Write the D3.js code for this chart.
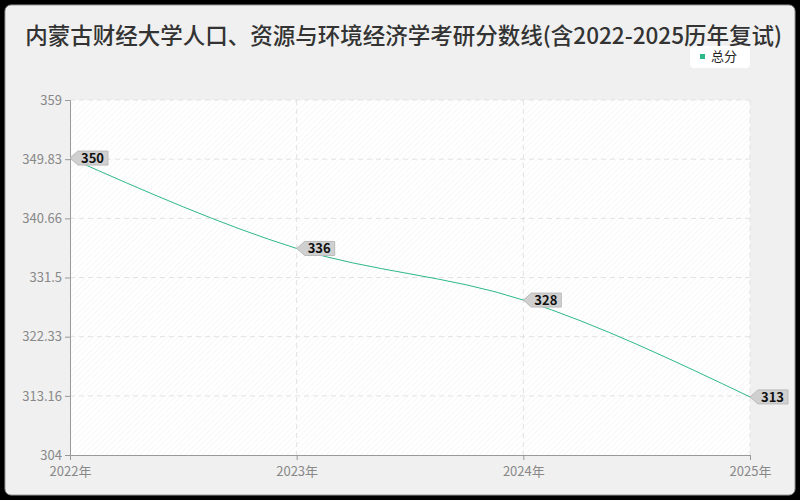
<!DOCTYPE html>
<html><head><meta charset="utf-8">
<script src="https://cdn.jsdelivr.net/npm/d3@7"></script>
<style>body{margin:0;background:#000}svg{display:block;font-family:"Noto Sans CJK SC","Noto Sans",sans-serif}</style>
</head><body><div id="chart"></div>
<script>
const years = ["2022年", "2023年", "2024年", "2025年"];
const scores = [350, 336, 328, 313];
const yTicks = [304, 313.16, 322.33, 331.5, 340.66, 349.83, 359];

const width = 800, height = 500;
const m = {left: 70, right: 750, top: 100, bottom: 455};

const svg = d3.select("#chart").append("svg").attr("width", width).attr("height", height);

const defs = svg.append("defs");
const pat = defs.append("pattern").attr("id", "hatch").attr("width", 4).attr("height", 4)
  .attr("patternUnits", "userSpaceOnUse").attr("patternTransform", "rotate(45)");
pat.append("rect").attr("width", 4).attr("height", 4).attr("fill", "#fff");
pat.append("line").attr("x1", 0).attr("y1", 0).attr("x2", 0).attr("y2", 4).attr("stroke", "#f0f0f0").attr("stroke-width", 1);

svg.append("rect").attr("x", 5).attr("y", 5).attr("width", 790).attr("height", 490).attr("rx", 6)
  .attr("fill", "#f0f0f0").attr("stroke", "#999");

svg.append("text").attr("x", 782).attr("y", 44).attr("text-anchor", "end")
  .attr("font-size", 22.5).attr("font-weight", 500).attr("fill", "#333")
  .text("内蒙古财经大学人口、资源与环境经济学考研分数线(含2022-2025历年复试)");

// legend
const lg = svg.append("g");
lg.append("rect").attr("x", 690).attr("y", 46).attr("width", 60).attr("height", 22).attr("rx", 4).attr("fill", "#fff");
lg.append("rect").attr("x", 700).attr("y", 54).attr("width", 5).attr("height", 5).attr("fill", "#2db88a");
lg.append("text").attr("x", 711).attr("y", 61).attr("font-size", 13).attr("fill", "#222").text("总分");

const x = d3.scalePoint().domain(years).range([m.left, m.right]);
const y = d3.scaleLinear().domain([304, 359]).range([m.bottom, m.top]);

svg.append("rect").attr("x", m.left).attr("y", m.top).attr("width", m.right - m.left)
  .attr("height", m.bottom - m.top).attr("fill", "url(#hatch)");

const grid = svg.append("g").attr("stroke", "#e2e2e2").attr("stroke-dasharray", "5,4");
grid.selectAll(".h").data(yTicks.slice(1)).join("line")
  .attr("x1", m.left).attr("x2", m.right).attr("y1", d => y(d)).attr("y2", d => y(d));
grid.selectAll(".v").data(years.slice(1)).join("line")
  .attr("x1", d => x(d)).attr("x2", d => x(d)).attr("y1", m.top).attr("y2", m.bottom);

const yAxis = svg.append("g").attr("transform", `translate(${m.left},0)`)
  .call(d3.axisLeft(y).tickValues(yTicks).tickFormat(d => d).tickSize(5));
const xAxis = svg.append("g").attr("transform", `translate(0,${m.bottom})`)
  .call(d3.axisBottom(x).tickSize(5));
[yAxis, xAxis].forEach(a => {
  a.selectAll("path,line").attr("stroke", "#999");
  a.selectAll("text").attr("fill", "#888").attr("font-size", 13)
    .attr("font-family", '"Noto Sans CJK SC","Noto Sans",sans-serif');
});
xAxis.selectAll("text").attr("dy", "1em");

const line = d3.line().x((d, i) => x(years[i])).y(d => y(d)).curve(d3.curveMonotoneX);
svg.append("path").datum(scores).attr("d", line).attr("fill", "none")
  .attr("stroke", "#2db88a").attr("stroke-width", 1);

const lab = svg.append("g").selectAll("g").data(scores).join("g")
  .attr("transform", (d, i) => `translate(${x(years[i])},${y(d)})`);
lab.append("path").attr("d", "M0,0 L8,-7 L38,-7 L38,7 L8,7 Z")
  .attr("fill", "#d0d0d0").attr("stroke", "#bbb");
lab.append("text").attr("x", 11).attr("y", 5).attr("font-size", 13).attr("font-weight", "bold")
  .attr("fill", "#111").text(d => d);
</script></body></html>
